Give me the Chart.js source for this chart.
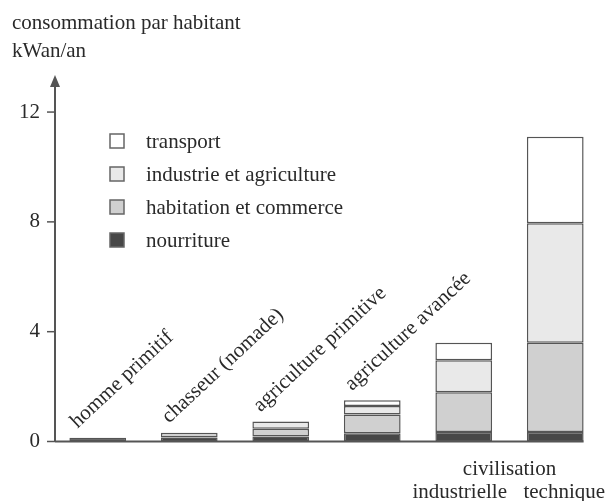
<!DOCTYPE html>
<html lang="fr">
<head>
    <meta charset="UTF-8">
    <title>Consommation par habitant</title>
    <style>
        html, body { margin: 0; padding: 0; background: #fff; }
        #wrap { width: 610px; height: 501px; position: relative; }
    </style>
</head>
<body>
    <div id="wrap"><canvas id="chart"></canvas></div>

    <script src="https://cdn.jsdelivr.net/npm/chart.js"></script>
    <script>
        // categories (last two share the group label "civilisation")
        const categories = ['homme primitif', 'chasseur (nomade)', 'agriculture primitive',
                            'agriculture avancée', 'industrielle', 'technique'];
        const groupLabel = 'civilisation';

        // kW per inhabitant
        const nourriture = [0.14, 0.15, 0.18, 0.30, 0.35, 0.35];
        const habitation = [null, 0.17, 0.28, 0.68, 1.44, 3.25];
        const industrie  = [null, null, 0.27, 0.31, 1.17, 4.35];
        const transport  = [null, null, null, 0.21, 0.64, 3.15];

        const seriesNames = ['nourriture', 'habitation et commerce', 'industrie et agriculture', 'transport'];
        const seriesColors = ['#474747', '#d0d0d0', '#e9e9e9', '#ffffff'];
        const yTicks = [0, 4, 8, 12];

        const FONT = '"Liberation Serif", "Times New Roman", serif';
        const TEXT = '#2a2a2a';
        const LINE = '#555';

        const overlay = {
            id: 'overlay',
            afterDatasetsDraw(chart) {
                const ctx = chart.ctx;
                const ys = chart.scales.y;
                const area = chart.chartArea;
                const axisX = area.left + 3;
                const y0 = ys.getPixelForValue(0);
                const bars = chart.getDatasetMeta(0).data;
                const lastBar = bars[bars.length - 1];

                ctx.save();
                ctx.strokeStyle = LINE;
                ctx.fillStyle = LINE;
                ctx.lineWidth = 2;
                // y axis with arrow
                ctx.beginPath();
                ctx.moveTo(axisX, y0);
                ctx.lineTo(axisX, area.top + 8);
                ctx.stroke();
                ctx.beginPath();
                ctx.moveTo(axisX, area.top);
                ctx.lineTo(axisX - 5, area.top + 12);
                ctx.lineTo(axisX + 5, area.top + 12);
                ctx.closePath();
                ctx.fill();
                // tick marks
                ctx.lineWidth = 1.5;
                yTicks.forEach(v => {
                    const py = ys.getPixelForValue(v);
                    ctx.beginPath();
                    ctx.moveTo(axisX - 8, py);
                    ctx.lineTo(axisX, py);
                    ctx.stroke();
                });
                // baseline
                ctx.lineWidth = 2;
                ctx.beginPath();
                ctx.moveTo(axisX, y0);
                ctx.lineTo(lastBar.x + lastBar.width / 2, y0);
                ctx.stroke();

                // category labels
                ctx.fillStyle = TEXT;
                ctx.font = '21px ' + FONT;
                const series = [nourriture, habitation, industrie, transport];
                categories.forEach((label, i) => {
                    const bar = bars[i];
                    const total = series.reduce((s, arr) => s + (arr[i] || 0), 0);
                    const top = ys.getPixelForValue(total);
                    if (i < 4) {
                        ctx.save();
                        ctx.translate(bar.x - bar.width / 2 + 8, top - 9);
                        ctx.rotate(-43 * Math.PI / 180);
                        ctx.textAlign = 'left';
                        ctx.textBaseline = 'alphabetic';
                        ctx.fillText(label, 0, 0);
                        ctx.restore();
                    } else {
                        ctx.textAlign = 'center';
                        ctx.textBaseline = 'alphabetic';
                        ctx.fillText(label, bar.x + (i === 4 ? -4 : 9), 498);
                    }
                });
                ctx.textAlign = 'center';
                ctx.fillText(groupLabel, (bars[4].x + bars[5].x) / 2, 475);

                // axis title
                ctx.textAlign = 'left';
                ctx.fillText('consommation par habitant', 12, 29);
                ctx.fillText('kWan/an', 12, 57);

                // legend (top series first)
                for (let k = 3; k >= 0; k--) {
                    const cy = 141 + (3 - k) * 33;
                    ctx.fillStyle = seriesColors[k];
                    ctx.strokeStyle = '#666';
                    ctx.lineWidth = 1.5;
                    ctx.fillRect(110, cy - 7, 14, 14);
                    ctx.strokeRect(110, cy - 7, 14, 14);
                    ctx.fillStyle = TEXT;
                    ctx.textBaseline = 'middle';
                    ctx.fillText(seriesNames[k], 146, cy + 1);
                }
                ctx.restore();
            }
        };

        const data = [nourriture, habitation, industrie, transport];
        new Chart(document.getElementById('chart'), {
            type: 'bar',
            data: {
                labels: categories,
                datasets: data.map((values, k) => ({
                    label: seriesNames[k],
                    data: values,
                    backgroundColor: seriesColors[k],
                    borderColor: LINE,
                    borderWidth: 1.5,
                    borderSkipped: false
                }))
            },
            options: {
                responsive: true,
                maintainAspectRatio: false,
                animation: false,
                layout: { padding: { top: 75, bottom: 59.5, left: 0, right: 9 } },
                datasets: { bar: { categoryPercentage: 1, barPercentage: 0.62 } },
                plugins: { legend: { display: false }, tooltip: { enabled: false } },
                scales: {
                    x: { stacked: true, display: false },
                    y: {
                        stacked: true,
                        min: 0,
                        max: 13.35,
                        afterFit(scale) { scale.width = 52; },
                        afterBuildTicks(scale) { scale.ticks = yTicks.map(v => ({ value: v })); },
                        grid: { display: false, drawTicks: false },
                        border: { display: false },
                        ticks: { padding: 12, color: TEXT, font: { family: FONT, size: 21 } }
                    }
                }
            },
            plugins: [overlay]
        });
    </script>
</body>
</html>
